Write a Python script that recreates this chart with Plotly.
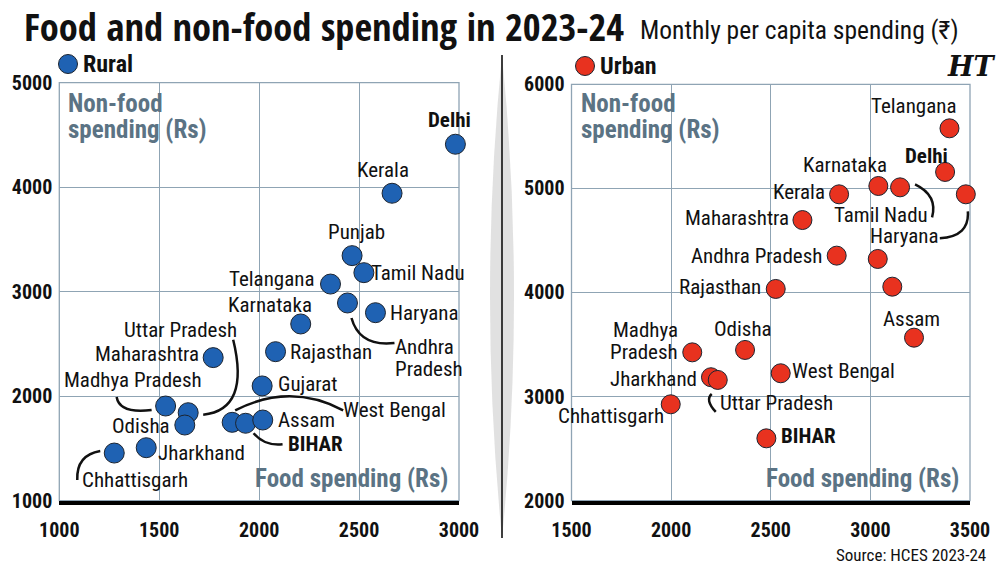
import plotly.graph_objects as go

# ---------------- data ----------------
rural_states = ["Delhi", "Kerala", "Punjab", "Tamil Nadu", "Telangana", "Andhra Pradesh",
                "Haryana", "Karnataka", "Rajasthan", "Maharashtra", "Gujarat",
                "Madhya Pradesh", "Uttar Pradesh", "Odisha", "West Bengal", "BIHAR",
                "Assam", "Jharkhand", "Chhattisgarh"]
rural_food = [2982, 2665, 2465, 2524, 2357, 2442, 2582, 2208, 2082, 1770, 2015,
              1532, 1645, 1628, 1865, 1932, 2018, 1435, 1275]
rural_nonfood = [4411, 3942, 3345, 3182, 3073, 2892, 2799, 2691, 2426, 2369, 2098,
                 1906, 1842, 1724, 1750, 1741, 1772, 1507, 1456]

urban_states = ["Telangana", "Delhi", "Haryana", "Karnataka", "Tamil Nadu", "Kerala",
                "Maharashtra", "Andhra Pradesh", "Gujarat", "Punjab", "Rajasthan", "Assam",
                "Madhya Pradesh", "Odisha", "West Bengal", "Jharkhand", "Uttar Pradesh",
                "Chhattisgarh", "BIHAR"]
urban_food = [3397, 3375, 3479, 3040, 3149, 2843, 2659, 2831, 3037, 3110, 2525, 3219,
              2106, 2371, 2550, 2200, 2234, 1998, 2478]
urban_nonfood = [5577, 5158, 4943, 5023, 5010, 4943, 4696, 4354, 4322, 4056, 4034, 3566,
                 3425, 3448, 3224, 3186, 3160, 2926, 2599]

rural_xticks = [1000, 1500, 2000, 2500, 3000]
rural_yticks = [1000, 2000, 3000, 4000, 5000]
urban_xticks = [1500, 2000, 2500, 3000, 3500]
urban_yticks = [2000, 3000, 4000, 5000, 6000]

# ---------------- styles / layout ----------------
W, H = 1000, 573
BLUE = "#1f62b3"
RED = "#e8321f"
GRID = "#8fa4b4"
AXTITLE = "#5b7384"
RC = "Roboto Condensed, Open Sans Condensed, sans-serif"
COND = "Open Sans Condensed, Roboto Condensed, sans-serif"

L_XDOM = [0.0593, 0.459]
R_XDOM = [0.5715, 0.970]
L_YDOM = [0.1262, 0.8557]
R_YDOM = [0.1262, 0.8529]
L_XR = [1000, 3000]; L_YR = [1000, 5000]
R_XR = [1500, 3500]; R_YR = [2000, 6000]

rural_lbl = {
    "Delhi": ("center", -6, 24), "Kerala": ("center", -9, 23), "Punjab": ("center", 4, 24),
    "Tamil Nadu": ("left", 5, 0), "Telangana": ("right", -15, 5), "Karnataka": ("center", -31, 19),
    "Haryana": ("left", 13, 0), "Andhra Pradesh": ("left", 46, -55), "Rajasthan": ("left", 12, 0),
    "Gujarat": ("left", 14, 2), "Maharashtra": ("right", -12, 4), "Uttar Pradesh": ("center", -8, 83),
    "Madhya Pradesh": ("center", -33, 26), "Odisha": ("right", -13, -1), "West Bengal": ("left", 109, 12),
    "Assam": ("left", 13, 0), "BIHAR": ("left", 40, -21), "Jharkhand": ("left", 10, -5),
    "Chhattisgarh": ("left", -34, -27),
}
urban_lbl = {
    "Telangana": ("center", -36, 22), "Delhi": ("center", -19, 16), "Karnataka": ("center", -33, 21),
    "Kerala": ("right", -12, 2), "Tamil Nadu": ("center", -19, -28), "Haryana": ("center", -61, -42),
    "Maharashtra": ("right", -11, 2), "Andhra Pradesh": ("right", -13, 0), "Rajasthan": ("right", -13, 2),
    "Assam": ("center", -3, 19), "Madhya Pradesh": ("right", -12, 11), "Odisha": ("center", -2, 21),
    "West Bengal": ("left", 9, 2), "Jharkhand": ("right", -12, -2), "Uttar Pradesh": ("left", 0, -23),
    "Chhattisgarh": ("right", -5, -12), "BIHAR": ("left", 13, 2),
}
rural_text = {"Andhra Pradesh": ["Andhra", "Pradesh"]}
urban_text = {"Madhya Pradesh": ["Madhya", "Pradesh"]}
LINE_GAP = 22

rural_arrows = {
    "Andhra Pradesh": ((47, 40), (12, 44), (4, 15)),
    "Uttar Pradesh": ((45, -73), (62, -3), (15, 2)),
    "Madhya Pradesh": ((-49, -9), (-46, 8), (-14, 4)),
    "West Bengal": ((111, -12), (58, -40), (3, -12)),
    "BIHAR": ((37, 21), (19, 23), (8, 10)),
    "Chhattisgarh": ((-37, 27), (-38, 2), (-14, -2)),
}
urban_arrows = {
    "Tamil Nadu": ((32, 30), (38, 8), (15, -3)),
    "Haryana": ((-26, 44), (4, 42), (2, 17)),
    "Uttar Pradesh": ((-2, 32), (-13, 20), (-6, 14)),
}

fig = go.Figure()


def px_scale(xdom, ydom, xr, yr):
    sx = (xdom[1] - xdom[0]) * W / (xr[1] - xr[0])
    sy = (ydom[1] - ydom[0]) * H / (yr[1] - yr[0])
    return sx, sy


def add_panel(states, food, nonfood, color, size, xa, ya, lbl, texts, arrows, xdom, ydom, xr, yr):
    fig.add_trace(go.Scatter(
        x=food, y=nonfood, mode="markers", xaxis=xa, yaxis=ya, cliponaxis=False,
        marker=dict(size=size, color=color, line=dict(color="#1c2430", width=1)),
        hovertext=states, hoverinfo="text+x+y", showlegend=False))
    xref = "x" if xa == "x" else "x2"
    yref = "y" if ya == "y" else "y2"
    sx, sy = px_scale(xdom, ydom, xr, yr)
    for s, fx, ny in zip(states, food, nonfood):
        if s not in lbl:
            continue
        anc, dx, dy = lbl[s]
        bold = s in ("Delhi", "BIHAR")
        lines = texts.get(s, [s])
        n_l = len(lines)
        for i, t in enumerate(lines):
            off = (n_l - 1) / 2 * LINE_GAP - i * LINE_GAP
            fig.add_annotation(
                x=fx, y=ny, xref=xref, yref=yref, text=t, showarrow=False,
                xanchor=anc, yanchor="middle", xshift=dx, yshift=dy + off, align="left",
                font=dict(family=RC, size=21, color="#111111", weight=700 if bold else 400))
        if s in arrows:
            (tx, ty), (cx, cy), (hx, hy) = arrows[s]
            X = lambda d: fx + d / sx
            Y = lambda d: ny - d / sy
            fig.add_shape(type="path", xref=xref, yref=yref,
                          path=f"M {X(tx)},{Y(ty)} Q {X(cx)},{Y(cy)} {X(hx)},{Y(hy)}",
                          line=dict(color="#111111", width=2.5))
            vx, vy = hx - cx, hy - cy
            n = (vx ** 2 + vy ** 2) ** 0.5
            fig.add_annotation(x=X(hx), y=Y(hy), xref=xref, yref=yref, text="", showarrow=True,
                               ax=-vx / n * 4, ay=-vy / n * 4, arrowhead=2, arrowsize=1.4,
                               arrowwidth=2.4, arrowcolor="#111111", standoff=0)


add_panel(rural_states, rural_food, rural_nonfood, BLUE, 20, "x", "y", rural_lbl, rural_text,
          rural_arrows, L_XDOM, L_YDOM, L_XR, L_YR)
add_panel(urban_states, urban_food, urban_nonfood, RED, 19, "x2", "y2", urban_lbl, urban_text,
          urban_arrows, R_XDOM, R_YDOM, R_XR, R_YR)

tickfont = dict(family=RC, size=20, color="#111111", weight=700)
common_x = dict(showgrid=True, gridcolor=GRID, gridwidth=1.3, zeroline=False, ticks="",
                showline=True, linecolor="#000000", linewidth=4, tickfont=tickfont,
                ticklabelstandoff=8, fixedrange=True, automargin=False)
common_y = dict(showgrid=True, gridcolor=GRID, gridwidth=1.3, zeroline=False, ticks="",
                showline=False, tickfont=tickfont, ticklabelstandoff=6, fixedrange=True,
                automargin=False)

fig.update_layout(
    width=W, height=H, margin=dict(l=0, r=0, t=0, b=0, autoexpand=False),
    paper_bgcolor="white", plot_bgcolor="white", showlegend=False,
    xaxis=dict(domain=L_XDOM, range=L_XR, tickvals=rural_xticks, anchor="y", **common_x),
    yaxis=dict(domain=L_YDOM, range=L_YR, tickvals=rural_yticks, anchor="x", **common_y),
    xaxis2=dict(domain=R_XDOM, range=R_XR, tickvals=urban_xticks, anchor="y2", **common_x),
    yaxis2=dict(domain=R_YDOM, range=R_YR, tickvals=urban_yticks, anchor="x2", **common_y),
)

for xr_, yr_ in (("x domain", "y domain"), ("x2 domain", "y2 domain")):
    fig.add_shape(type="rect", xref=xr_, yref=yr_, x0=0, x1=1, y0=0, y1=1,
                  line=dict(color=GRID, width=1.3), layer="below")

axfont = dict(family=RC, size=25, color=AXTITLE, weight=700)
for xr_, yr_, top in (("x domain", "y domain", 82.7), ("x2 domain", "y2 domain", 84.3)):
    for t, yc in (("Non-food", 103.5), ("spending (Rs)", 129.5)):
        fig.add_annotation(xref=xr_, yref=yr_, x=0, y=1, xshift=7, yshift=-(yc - top), xanchor="left",
                           yanchor="middle", showarrow=False, text=t, font=axfont)
    fig.add_annotation(xref=xr_, yref=yr_, x=1, y=0, xshift=-9, yshift=22, xanchor="right",
                       yanchor="middle", showarrow=False, text="Food spending (Rs)", font=axfont)

for cx, cy, col, lab in ((68, 64, BLUE, "Rural"), (585, 66, RED, "Urban")):
    r = 9.5
    fig.add_shape(type="circle", xref="paper", yref="paper",
                  x0=(cx - r) / W, x1=(cx + r) / W, y0=1 - (cy + r) / H, y1=1 - (cy - r) / H,
                  fillcolor=col, line=dict(color="#1c2430", width=1))
    fig.add_annotation(xref="paper", yref="paper", x=(cx + 13) / W, y=1 - cy / H, xanchor="left",
                       yanchor="middle", showarrow=False, text=lab,
                       font=dict(family=RC, size=24, color="#111111", weight=700))

fig.add_annotation(xref="paper", yref="paper", x=22 / W, y=1 - 26 / H, xanchor="left", yanchor="middle",
                   showarrow=False, text="Food and non-food spending in 2023-24",
                   font=dict(family=COND, size=38.5, color="#111111", weight=800))
fig.add_annotation(xref="paper", yref="paper", x=638 / W, y=1 - 30 / H, xanchor="left", yanchor="middle",
                   showarrow=False, text="Monthly per capita spending (₹)",
                   font=dict(family=RC, size=25.5, color="#111111", weight=400))
fig.add_annotation(xref="paper", yref="paper", x=988 / W, y=1 - 555 / H, xanchor="right", yanchor="middle",
                   showarrow=False, text="Source: HCES 2023-24",
                   font=dict(family=RC, size=17, color="#111111"))
fig.add_annotation(xref="paper", yref="paper", x=971 / W, y=1 - 66 / H, xanchor="center", yanchor="middle",
                   showarrow=False, text="<i>HT</i>",
                   font=dict(family="DejaVu Serif, serif", size=27, color="#111111", weight="bold"))

yt, yb = 1 - 55 / H, 1 - 538 / H
ym = (yt + yb) / 2
fig.add_shape(type="path", xref="paper", yref="paper",
              path=f"M 0.502,{yt} Q 0.526,{ym} 0.502,{yb} Q 0.478,{ym} 0.502,{yt} Z",
              fillcolor="rgba(200,200,200,0.55)", line=dict(width=0), layer="below")
fig.add_shape(type="line", xref="paper", yref="paper", x0=0.502, x1=0.502, y0=yt, y1=yb,
              line=dict(color="#111111", width=1.6))

fig.write_html("out.html")
